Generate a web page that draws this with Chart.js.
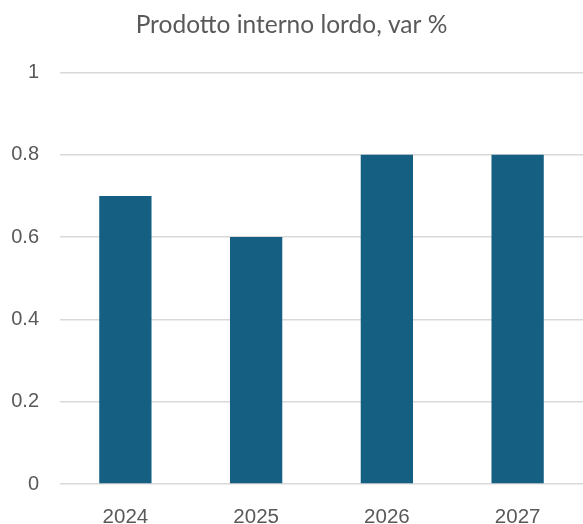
<!DOCTYPE html>
<html>
<head>
<meta charset="utf-8">
<script src="https://cdn.jsdelivr.net/npm/chart.js@4"></script>
<style>
  html, body { margin: 0; padding: 0; background: #fff; }
  #wrap { width: 583px; height: 524px; }
</style>
</head>
<body>
<div id="wrap"><canvas id="pilChart"></canvas></div>
<script>
// ------------------ Data ------------------
const years = ["2024", "2025", "2026", "2027"];
const gdpChange = [0.7, 0.6, 0.8, 0.8];
const yTicks = [0, 0.2, 0.4, 0.6, 0.8, 1];

const BAR_COLOR = "#156082";
const TEXT_COLOR = "#595959";
const GRID_COLOR = "#d9d9d9";

new Chart(document.getElementById("pilChart"), {
    type: "bar",
    data: {
        labels: years,
        datasets: [{
            label: "Prodotto interno lordo, var %",
            data: gdpChange,
            backgroundColor: BAR_COLOR,
            categoryPercentage: 1,
            barPercentage: 0.4
        }]
    },
    options: {
        responsive: true,
        maintainAspectRatio: false,
        animation: false,
        layout: { padding: 0 },
        plugins: {
            legend: { display: false },
            tooltip: { enabled: false },
            title: {
                display: true,
                text: "Prodotto interno lordo, var %",
                color: TEXT_COLOR,
                font: { family: "Lato", size: 24.5, weight: "normal" },
                padding: { top: 10, bottom: 33 }
            }
        },
        scales: {
            x: {
                afterFit: axis => { axis.height = 40; },
                grid: { display: false },
                border: { display: false },
                ticks: {
                    color: TEXT_COLOR,
                    font: { family: "Liberation Sans", size: 20.5 },
                    padding: 13
                }
            },
            y: {
                min: 0,
                max: 1,
                afterBuildTicks: axis => { axis.ticks = yTicks.map(v => ({ value: v })); },
                afterFit: axis => { axis.width = 60; },
                grid: { color: GRID_COLOR, lineWidth: 1.5, drawTicks: false },
                border: { display: false },
                ticks: {
                    color: TEXT_COLOR,
                    font: { family: "Liberation Sans", size: 20 },
                    padding: 21,
                    callback: v => String(v)
                }
            }
        }
    }
});
</script>
</body>
</html>
